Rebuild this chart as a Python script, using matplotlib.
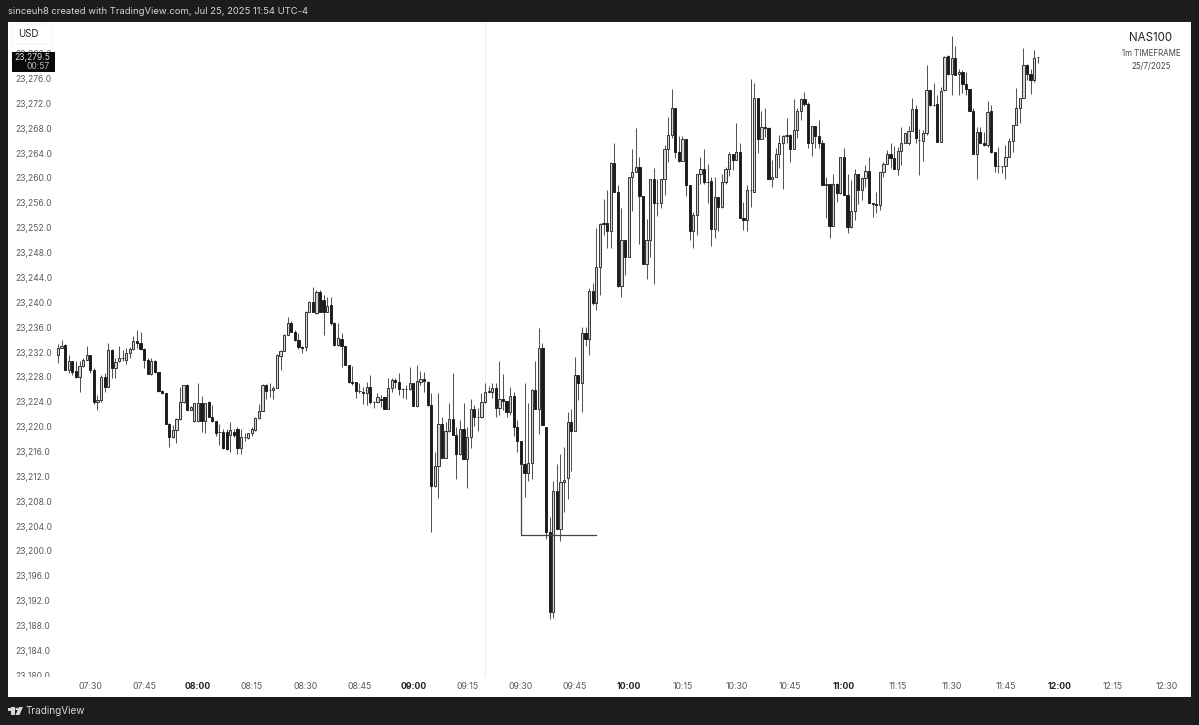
import numpy as np
import matplotlib
matplotlib.use('Agg')
from matplotlib import pyplot as plt
from matplotlib.patches import Rectangle, FancyBboxPatch, Circle, Polygon

# precios en puntos por encima de 23000, velas de 1 minuto desde las 07:21
base_price = 23000
opens = [
    231.5,232.6,233.1,229.1,230.5,228.9,228.05,229.8,230.8,231.5,
    229.1,224,224.3,228,226.44,232.34,229.5,230.5,231,230.8,
    231.9,232.5,233.84,233.5,232.5,230.8,228.5,230.5,228.75,225.75,
    225.4,220.5,218.4,219.5,221.24,223.9,226.7,222.7,220.9,220.9,
    223.76,220.9,223.9,221.6,220.9,219.2,219.2,219.2,218.6,219.2,
    219.7,216.5,218.3,218.1,218.9,219.5,221.35,222.5,226.7,225.9,
    225.9,226.28,231.4,232.2,234.75,236.73,235.28,234,232.87,232.87,
    238.5,240.1,238.34,241.7,240.4,238.5,239.55,236.73,233.14,234.1,
    233,229.9,227.24,227.24,225.74,225.64,225.4,226.44,224,224,
    224.5,224.7,222.85,226.16,227.5,227.24,226,226,226,226.97,
    223.33,227.24,227.67,227.24,223.5,210.5,213.7,220.4,215,219.3,
    221.2,218.67,215.6,219.7,214.8,218.4,222.8,221.5,221.5,223.9,
    225.5,225.6,226.17,223.06,224.4,224.1,222.4,225,220,217.7,
    214,212.5,214.2,225.9,222.85,232.6,220,203.1,190.26,209.7,
    203.55,211.06,211.7,220.8,219.3,228.3,227.1,235,234.1,241.82,
    239.85,245.74,252.7,252.7,251.5,262.35,257.8,242.6,250,247.3,
    260.1,260.9,261.8,257.1,246.1,250,259.8,255.9,255.9,259.8,
    264.6,266.9,271.2,264.2,262.8,266.3,258.8,251.4,254,260.6,
    261.4,259.4,259.5,251.8,257,255.3,259.3,261.4,263.8,262.9,
    264.2,253.6,253.3,258,257.8,272.8,266.3,268.2,268,259.8,
    260.1,263.9,265.6,266.8,266.9,264.6,267.7,270.8,272.65,271.85,
    265.7,268.3,266.8,265.6,258.9,259,252.3,259,257.65,263.3,
    257.3,252.1,254.7,260.65,258.1,260,261.1,256,255.8,255.6,
    261,262.25,263.8,263.2,261.4,264.4,265.7,265.7,267.6,271.05,
    266.1,266,267.2,274.15,271.75,271.9,265.85,274.15,279.6,276.7,
    279.25,276.7,277.1,275.06,274.26,270.7,263.85,267.45,265.7,265.3,
    270.7,264.1,261.9,262,261.9,263.3,266,268.5,271.3,272.8,
    278.2,276.8,275.76,279.4]
highs = [
    233.3,234,233.3,231.5,230.5,230.5,230.5,231,233,231.6,
    229.4,225.1,228.3,228.6,233.5,232.44,231,232.9,232.34,232.6,
    232.76,234.6,235.55,235.3,232.6,231,231,230.7,228.85,225.9,
    225.4,220.6,220.3,221.35,226.3,226.7,226.8,223.3,223.76,227,
    225,223.76,224.1,223.5,220.9,220.4,219.7,219.7,220.8,219.7,
    220,219.6,218.9,219,220,221.6,223.65,226.9,226.9,227,
    226.5,231.7,232.4,234.9,237.6,237.05,235.55,235,233,238.66,
    240.27,242.5,242,241.9,241.2,240.9,240.8,236.9,236.6,235,
    233,229.9,229.76,227.24,227,226.44,227.24,228.3,224.2,225.4,
    225.1,224.7,227.9,227.8,227.9,228.7,226.2,226.7,229.55,226.97,
    229.9,229,228.85,227.3,225.4,216,225.4,221.5,220.8,223.8,
    228.7,220,221,223.76,219.9,224.45,223.5,222.95,225.4,227,
    226.5,227,227,230.6,228.4,224.2,226.3,225.6,221.1,217.7,
    227,223.85,226,230.6,235.9,233.5,220,205.5,211.2,214,
    215.6,216.8,222.3,222.8,231.26,228.3,236,236,242.25,243.06,
    251.9,252.7,256.6,258,262.6,265.7,258.8,255.1,250,260.1,
    264.66,268,263.3,257.1,253.4,259.8,261.55,259.8,259.8,265.3,
    269.85,274.26,271.3,266.8,266.8,266.3,258.8,254.6,260.7,263.3,
    264.6,262.25,260.1,260.1,257,260.6,261.8,264.2,263.9,268.9,
    265.7,256.2,258.9,276,275.2,272.9,270.8,271.2,268.2,262.9,
    264.8,266.9,266.9,269.6,267,272.7,271.2,272.8,273.9,272.3,
    268.3,268.4,269.4,266.1,260.1,259,260.65,259.2,263.4,264.9,
    260.6,259.7,261.4,260.7,260.1,262.1,263.3,256,257.8,261,
    262.5,264.5,265.7,265.15,265,268.15,267.3,268.4,272.8,271.7,
    267.8,267.7,278.2,274.2,275.2,273.35,274.7,279.6,279.8,282.8,
    281.2,277.5,277.4,277.1,274.3,271.2,268.15,268.15,267.45,272.4,
    271.7,264.2,265,262,265.3,266.5,268.6,274.4,272.8,280.85,
    278.3,277.6,280.6,279.5]
lows = [
    230.2,232.6,229.1,228.6,228.3,227.9,225.6,229.6,230.7,228.7,
    223.65,222.7,224,225.6,226.4,227.8,227.8,230.35,230.5,230,
    231,232.3,232.6,232.3,229.5,228.5,228.3,228.6,225.6,225.3,
    220.5,216.8,218.1,217.4,221.1,223.76,222.6,222.6,220.8,220.8,
    219.2,219,221.5,220.8,218.5,217,216.4,216.2,215.9,218.4,
    215.6,215.6,217.76,218,218.5,219.3,221.3,222.5,224.4,224.7,
    224.4,226.28,229.1,232.2,234.75,235.28,233.78,232.44,231.9,232.2,
    238.5,238.4,238.2,238.4,234.75,238.4,236.35,233,233,229.55,
    229.9,227.1,226.7,224.56,225.4,223.65,223.5,223.65,222.95,223.76,
    223.2,222.8,222.8,225.64,226.16,225.1,224.56,224.4,225.9,223.33,
    223.2,226.7,225.64,223.3,203.1,210.35,208.6,214.9,215,219.2,
    218.6,211.6,215.45,214.75,210.1,216.5,220.15,219.36,221.35,223.76,
    225.4,224.56,221.5,221.9,222.7,221.6,221.9,218.56,216,214,
    208.75,211.2,211.6,222.85,218.75,220.2,201.9,189,189.2,203.55,
    201.67,206.2,208.4,212.9,219.3,224.3,222.3,232.9,231.5,239.5,
    238.8,241.2,250.8,248.8,248.8,257.8,242.5,240.9,244.4,247.3,
    254.74,260.9,249.4,246.1,243.7,247.3,243,253.9,255.1,257.3,
    262.5,266.5,263.2,262.6,262.8,257.1,250.1,248.7,250.8,259.1,
    259.1,255.9,249.1,250.3,251.4,255.1,259.1,260.3,261.3,262.9,
    253.6,251.6,251.5,255.3,257.8,264,266.3,266.65,259.8,258.6,
    260.1,261.6,258.3,265.7,262.6,264.6,266.4,269.3,271.5,264.9,
    263.6,264.9,264.9,258.8,253.5,250.3,252.3,256.1,257.5,257.2,
    251.2,251.9,253.25,255.8,256.5,258.6,256,253.7,254.4,254.9,
    260.2,262.25,261.6,261.4,260.5,262.1,265.6,265.3,267.6,265.6,
    260.4,262.8,266.9,271.5,271.6,265.85,265.85,274,276.6,273.35,
    276.6,273.35,273.6,273.35,270.7,263.85,259.85,265.6,265.15,265,
    264,261,260.86,260.75,259.85,263.3,264.2,268.5,268.9,272.8,
    275.76,273.5,275.4,278.5]
closes = [
    232.6,233,229.1,230.5,228.85,228.05,229.8,230.8,231.5,229.1,
    224,224.3,228,226.44,232.34,229.5,230.35,231,231,231.9,
    232.5,233.84,233.5,232.5,230.8,228.5,230.5,228.75,225.75,225.4,
    220.5,218.4,219.5,221.24,223.9,226.7,222.7,223.1,223.76,223.76,
    220.9,223.76,221.6,220.9,219,219.2,216.5,216.4,219.5,218.6,
    216.5,218.4,218.3,218.9,219.6,221.35,222.5,226.7,225.74,225.9,
    226.28,231.5,232.2,234.75,236.73,235.28,233.94,232.87,232.6,238.5,
    240.1,238.5,241.7,238.5,238.5,239.4,236.73,233.14,234.2,233,
    229.9,227.24,227.1,225.74,225.74,225.4,226.44,223.9,224,224.7,
    224.3,222.85,226.16,227.5,227.24,226,226,226,226.97,223.33,
    227.4,227.67,227.35,223.5,210.5,213.7,220.4,215,219.3,221.2,
    218.67,215.6,219.6,214.8,218.4,222.8,221.5,221.5,223.9,225.5,
    225.8,226.17,223.06,224.4,224.2,222.4,225,220,217.7,214,
    212.5,214.2,225.9,222.85,232.6,220.2,203.1,190.26,209.7,203.55,
    211.06,211.4,220.8,219.3,228.3,227.1,235,234.1,241.82,239.85,
    245.74,252.6,252.6,251.5,262.35,257.8,242.6,250,247.3,260.1,
    260.9,261.8,257.1,246.1,250,259.8,255.9,255.9,259.8,264.6,
    266.9,271.2,264.2,262.8,266.3,258.8,251.4,254,260.6,261.4,
    259.3,259.4,251.8,257,255.3,259.3,261.4,263.8,262.9,264.2,
    253.6,253.3,258,258.1,272.8,266.3,268.15,268,259.8,260.1,
    263.9,265.6,266.8,266.9,264.6,267.7,270.8,272.65,271.85,265.7,
    268.3,266.8,265.6,258.9,259,252.3,259,257.65,263.3,257.3,
    252.1,254.7,260.65,258.1,260,261.1,256,255.8,255.6,261,
    262.25,263.8,263.2,261.4,264.4,265.7,267.2,267.6,271.05,266.4,
    266.1,267.2,274.15,271.75,271.7,265.85,274,279.5,276.7,279.25,
    276.6,277.1,275.06,274.26,270.7,263.85,267.45,265.7,265.3,270.56,
    264.1,261.9,262,261.9,263.3,266,268.5,271.3,272.8,278.2,
    276.8,275.76,279.35,279.5]

# lineas dibujadas a mano sobre el grafico: (vela, precio)
drawn_bars = [129, 129, 150]
drawn_prices = [214, 202.65, 202.65]
session_bar = 119

price_ticks = list(range(23180, 23284, 4))
time_bars = list(range(9, 310, 15))
time_labels = ['07:30', '07:45', '08:00', '08:15', '08:30', '08:45', '09:00',
               '09:15', '09:30', '09:45', '10:00', '10:15', '10:30', '10:45',
               '11:00', '11:15', '11:30', '11:45', '12:00', '12:15', '12:30']

W, H = 1199, 725
BG = '#1c1c1c'
plt.rcParams['font.family'] = ['Inter', 'DejaVu Sans']

fig = plt.figure(figsize=(W / 100, H / 100), dpi=100, facecolor=BG)


def rect(x0, y0, x1, y1):
    # caja en pixeles de la imagen (y hacia abajo) a fraccion de figura
    return [x0 / W, 1 - y1 / H, (x1 - x0) / W, (y1 - y0) / H]


ax = fig.add_axes(rect(8, 22, 1191, 677), facecolor='white')
band = fig.add_axes(rect(8, 677, 1191, 697), facecolor='white', sharex=ax)
for a in (ax, band):
    for s in a.spines.values():
        s.set_visible(False)

o = np.array(opens) + base_price
h = np.array(highs) + base_price
l = np.array(lows) + base_price
c = np.array(closes) + base_price
bars = np.arange(len(c))
up = c >= o

ax.vlines(bars, l, h, color='#555555', lw=0.75, zorder=2)
ax.bar(bars[up], (c - o)[up], bottom=o[up], width=0.62, facecolor='#d4d4d4',
       edgecolor='#2a2a2a', lw=0.65, zorder=3)
ax.bar(bars[~up], (c - o)[~up], bottom=o[~up], width=0.62, facecolor='#1a1a1a',
       edgecolor='#1a1a1a', lw=0.65, zorder=3)

ax.axvline(session_bar, color='#ececec', lw=0.8, zorder=1)
ax.plot(drawn_bars, np.array(drawn_prices) + base_price, color='#444444', lw=0.9, zorder=4)

ax.set_xlim(-13.93, 315.7)
ax.set_ylim(23276 - (677 - 78.5) / 6.217, 23276 + (78.5 - 22) / 6.217)

ax.set_yticks(price_ticks)
ax.set_yticklabels([f'{p:,.1f}' for p in price_ticks], ha='left', fontsize=6.1, color='#5a5a5a')
ax.tick_params(axis='y', length=0, pad=-5.0)
ax.tick_params(axis='x', length=0, labelbottom=False)

band.set_yticks([])
band.set_xticks(time_bars)
band.set_xticklabels(time_labels, fontsize=6.3, color='#5a5a5a')
band.tick_params(axis='x', length=0, pad=-11)
for t in band.get_xticklabels():
    if t.get_text().endswith(':00'):
        t.set_fontweight('bold')
        t.set_color('#222222')

# texto del encabezado y pie
fig.text(8 / W, 1 - 11 / H, 'sinceuh8 created with TradingView.com, Jul 25, 2025 11:54 UTC-4',
         color='#d6d6d6', fontsize=6.8, va='center', ha='left')
fig.text(26 / W, 1 - 711.5 / H, 'TradingView', color='#d6d6d6', fontsize=7.2, va='center', ha='left')

# logo
fig.add_artist(Rectangle((8 / W, 1 - 711 / H), 7 / W, 3.5 / H, transform=fig.transFigure, color='#d6d6d6', lw=0))
fig.add_artist(Rectangle((11 / W, 1 - 715 / H), 4 / W, 8 / H, transform=fig.transFigure, color='#d6d6d6', lw=0))
fig.add_artist(Circle((17.2 / W, 1 - 709 / H), 0.0016, transform=fig.transFigure, color='#d6d6d6', lw=0))
fig.add_artist(Polygon([(19 / W, 1 - 707 / H), (23 / W, 1 - 707 / H), (19.5 / W, 1 - 715 / H), (15.5 / W, 1 - 715 / H)],
                       transform=fig.transFigure, color='#d6d6d6', lw=0))

# caja USD y etiqueta de precio
fig.add_artist(FancyBboxPatch((12 / W, 1 - 44 / H), 40 / W, 20 / H, transform=fig.transFigure,
                              boxstyle='round,pad=0,rounding_size=0.002', facecolor='white',
                              edgecolor='#f3f3f3', lw=0.7, zorder=5))
fig.text(28 / W, 1 - 34 / H, 'USD', color='#222222', fontsize=7, va='center', ha='center', zorder=6)
fig.add_artist(Rectangle((12 / W, 1 - 72 / H), 43 / W, 20 / H, transform=fig.transFigure, color='#0a0a0a', lw=0, zorder=5))
fig.text(50 / W, 1 - 57.5 / H, '23,279.5', color='#d8d8d8', fontsize=6.1, va='center', ha='right', zorder=6)
fig.text(50 / W, 1 - 66.5 / H, '00:57', color='#b8b8b8', fontsize=6.1, va='center', ha='right', zorder=6)

fig.text(1151 / W, 1 - 38 / H, 'NAS100', color='#222222', fontsize=8.3, va='center', ha='center')
fig.text(1151 / W, 1 - 54 / H, '1m TIMEFRAME', color='#444444', fontsize=5.7, va='center', ha='center')
fig.text(1151 / W, 1 - 67 / H, '25/7/2025', color='#444444', fontsize=5.7, va='center', ha='center')

fig.savefig('out.png', dpi=100, facecolor=BG)
